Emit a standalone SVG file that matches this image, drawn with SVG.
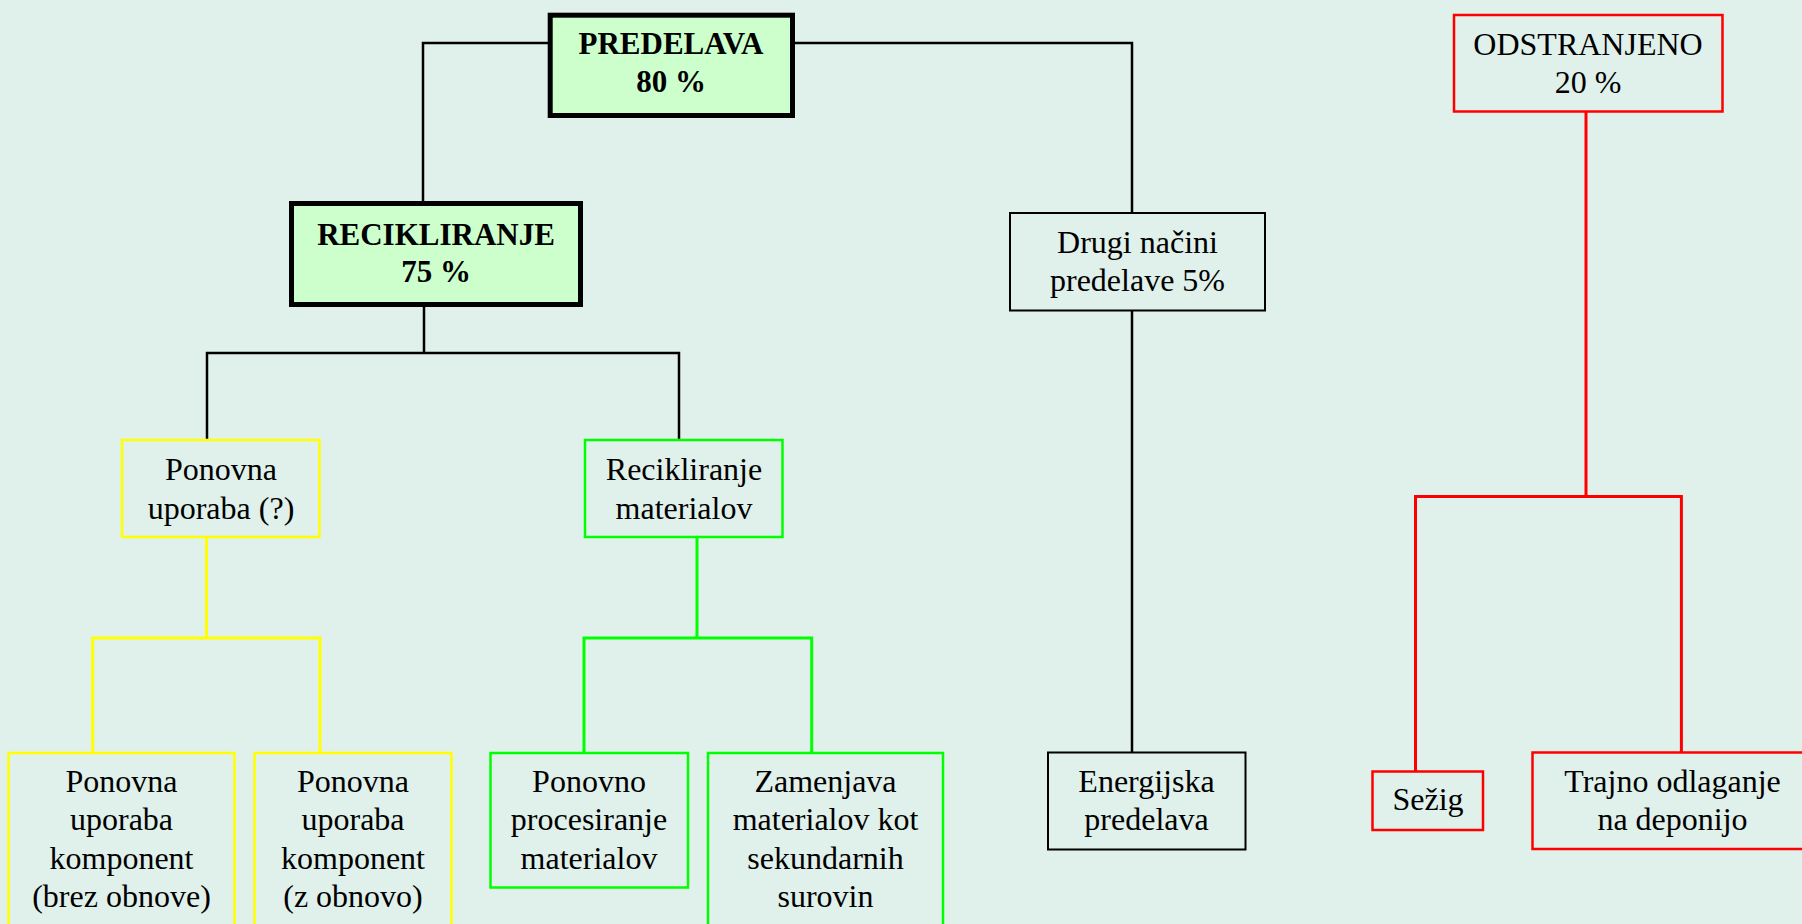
<svg xmlns="http://www.w3.org/2000/svg" width="1802" height="924" viewBox="0 0 1802 924">
<style>
.t{font-family:"Liberation Serif","Times New Roman",serif;font-size:32px;fill:#000;text-anchor:middle}
.b{font-weight:bold;font-size:31px}
.thick{fill:#CCFFCC;stroke:#000;stroke-width:5}
.blk{fill:none;stroke:#000;stroke-width:2}
.yel{fill:none;stroke:#FFFF00;stroke-width:2.5}
.grn{fill:none;stroke:#00FF00;stroke-width:2.5}
.red{fill:none;stroke:#FF0000;stroke-width:2.5}
.cb{fill:none;stroke:#000;stroke-width:2.5}
.cy{fill:none;stroke:#FFFF00;stroke-width:3}
.cg{fill:none;stroke:#00FF00;stroke-width:3}
.cr{fill:none;stroke:#FF0000;stroke-width:3}
</style>
<rect x="0" y="0" width="1802" height="924" fill="#E0F0EA"/>
<g id="connectors">
<polyline class="cb" points="553,43 423,43 423,203"/>
<polyline class="cb" points="790,43 1132,43 1132,213"/>
<line class="cb" x1="1132" y1="310" x2="1132" y2="752"/>
<line class="cb" x1="424" y1="305" x2="424" y2="353"/>
<polyline class="cb" points="207,439 207,353 679,353 679,439"/>
<line class="cy" x1="206.5" y1="537" x2="206.5" y2="638"/>
<polyline class="cy" points="92.7,752 92.7,638 320,638 320,752"/>
<line class="cg" x1="697" y1="537" x2="697" y2="638"/>
<polyline class="cg" points="584,752 584,638 811.7,638 811.7,752"/>
<line class="cr" x1="1586" y1="111" x2="1586" y2="496.5"/>
<polyline class="cr" points="1415.5,771 1415.5,496.5 1681.4,496.5 1681.4,752"/>
</g>
<g id="predelava">
<rect class="thick" x="550.2" y="15.2" width="242.3" height="100.3"/>
<text class="t b" x="671" y="54">PREDELAVA</text>
<text class="t b" x="671" y="92">80 %</text>
</g>
<g id="recikliranje">
<rect class="thick" x="291.5" y="203.5" width="289" height="101"/>
<text class="t b" x="436" y="245">RECIKLIRANJE</text>
<text class="t b" x="436" y="282">75 %</text>
</g>
<g id="drugi">
<rect class="blk" x="1010" y="213" width="255" height="97.5"/>
<text class="t" x="1137.5" y="253">Drugi načini</text>
<text class="t" x="1137.5" y="291">predelave 5%</text>
</g>
<g id="odstranjeno">
<rect class="red" x="1454" y="15" width="268.5" height="96.5"/>
<text class="t" x="1588" y="55">ODSTRANJENO</text>
<text class="t" x="1588" y="93">20 %</text>
</g>
<g id="ponovna-uporaba">
<rect class="yel" x="122" y="440" width="197.5" height="97"/>
<text class="t" x="221" y="480">Ponovna</text>
<text class="t" x="221" y="518.5">uporaba (?)</text>
</g>
<g id="recikliranje-materialov">
<rect class="grn" x="585" y="440" width="197.5" height="97"/>
<text class="t" x="684" y="480">Recikliranje</text>
<text class="t" x="684" y="518.5">materialov</text>
</g>
<g id="brez-obnove">
<rect class="yel" x="8.5" y="753" width="226" height="190"/>
<text class="t" x="121.5" y="791.5">Ponovna</text>
<text class="t" x="121.5" y="830">uporaba</text>
<text class="t" x="121.5" y="868.5">komponent</text>
<text class="t" x="121.5" y="907">(brez obnove)</text>
</g>
<g id="z-obnovo">
<rect class="yel" x="254.5" y="753" width="197" height="190"/>
<text class="t" x="353" y="791.5">Ponovna</text>
<text class="t" x="353" y="830">uporaba</text>
<text class="t" x="353" y="868.5">komponent</text>
<text class="t" x="353" y="907">(z obnovo)</text>
</g>
<g id="ponovno-procesiranje">
<rect class="grn" x="490.5" y="753" width="197.5" height="134.5"/>
<text class="t" x="589" y="791.5">Ponovno</text>
<text class="t" x="589" y="830">procesiranje</text>
<text class="t" x="589" y="868.5">materialov</text>
</g>
<g id="zamenjava">
<rect class="grn" x="708" y="753" width="235" height="190"/>
<text class="t" x="825.5" y="791.5">Zamenjava</text>
<text class="t" x="825.5" y="830">materialov kot</text>
<text class="t" x="825.5" y="868.5">sekundarnih</text>
<text class="t" x="825.5" y="907">surovin</text>
</g>
<g id="energijska">
<rect class="blk" x="1048" y="752.5" width="197.5" height="97"/>
<text class="t" x="1146.5" y="791.5">Energijska</text>
<text class="t" x="1146.5" y="830">predelava</text>
</g>
<g id="sezig">
<rect class="red" x="1372.5" y="771.5" width="110.5" height="58.5"/>
<text class="t" x="1428" y="810">Sežig</text>
</g>
<g id="trajno">
<rect class="red" x="1532.5" y="752.5" width="280" height="96.5"/>
<text class="t" x="1672.5" y="791.5">Trajno odlaganje</text>
<text class="t" x="1672.5" y="830">na deponijo</text>
</g>
</svg>
